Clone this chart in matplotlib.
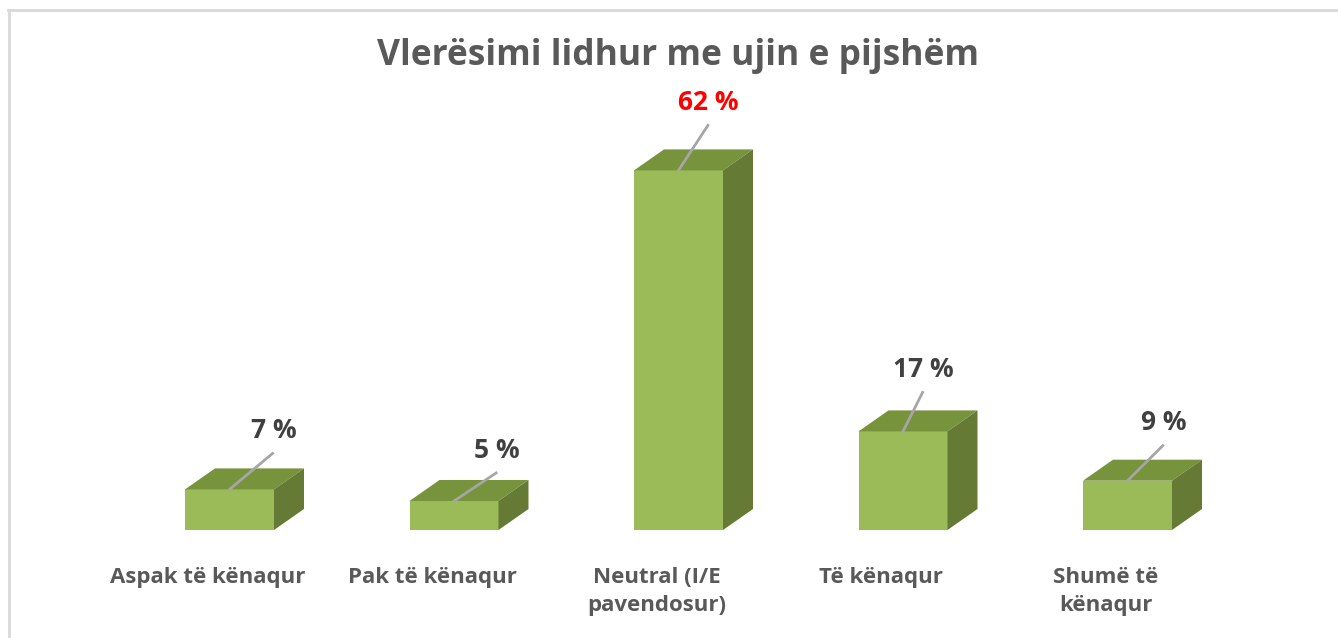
import numpy as np
import matplotlib
matplotlib.use('Agg')
import matplotlib.pyplot as plt
from matplotlib.patches import Polygon
from matplotlib.lines import Line2D
import matplotlib.transforms as mtransforms

plt.rcParams['font.family'] = ['Open Sans', 'DejaVu Sans']

# data
categories = ['Aspak të kënaqur', 'Pak të kënaqur', 'Neutral (I/E\npavendosur)',
              'Të kënaqur', 'Shumë të\nkënaqur']
values = [7, 5, 62, 17, 8.5]
value_labels = ['7 %', '5 %', '62 %', '17 %', '9 %']
title = 'Vlerësimi lidhur me ujin e pijshëm'

# style
front_col = '#9BBB59'
top_col = '#77933C'
side_col = '#647A35'
label_cols = ['#404040', '#404040', '#FF0000', '#404040', '#404040']
# label offsets (pixels) from front-top centre of each bar
lab_dx = [44, 43, 30, 20, 36]
lab_dy = [59, 51, 68, 62, 58]

W, H = 1338, 638
fig = plt.figure(figsize=(W / 100, H / 100), dpi=100)

spacing = 224.5
left = 229.5 - 0.5 * spacing
ax = fig.add_axes([left / W, 108 / H, 5 * spacing / W, 406 / H])
ax.set_xlim(-0.5, 4.5)
ax.set_ylim(0, 70)
ax.axis('off')

bar_w = 89 / spacing
ddx = 30 / spacing           # depth in x (category units)
ddy = 21 / (406 / 70)        # depth in y (percent units)

x = np.arange(len(values))
ax.bar(x, values, width=bar_w, color=front_col, edgecolor='none', zorder=2)
for xi, v in zip(x, values):
    x0, x1 = xi - bar_w / 2, xi + bar_w / 2
    ax.add_patch(Polygon([(x0, v), (x1, v), (x1 + ddx, v + ddy), (x0 + ddx, v + ddy)],
                         closed=True, facecolor=top_col, edgecolor='none', zorder=2))
    ax.add_patch(Polygon([(x1, 0), (x1 + ddx, ddy), (x1 + ddx, v + ddy), (x1, v)],
                         closed=True, facecolor=side_col, edgecolor='none', zorder=2))

# data labels with leader lines
for xi, v, lab, c, dx, dy in zip(x, values, value_labels, label_cols, lab_dx, lab_dy):
    base = ax.transData.transform((xi, v))
    tx, ty = base[0] + dx, base[1] + dy
    ex, ey = base[0] + dx * 0.98, base[1] + dy - 23
    line = Line2D([base[0], ex], [base[1], ey], transform=None,
                  color='#A6A6A6', lw=2, zorder=3)
    fig.add_artist(line)
    fig.text(tx / W, ty / H, lab, ha='center', va='center', fontsize=19,
             fontweight='bold', color=c)

# category labels
for xi, cat in zip(x, categories):
    tr = mtransforms.offset_copy(ax.transData, fig=fig, x=-22, y=-37, units='dots')
    ax.text(xi, 0, cat, transform=tr, ha='center', va='top', fontsize=16,
            fontweight='bold', color='#595959', linespacing=1.45)

fig.text(678 / W, (H - 56) / H, title, ha='center', va='center', fontsize=25.5,
         fontweight='bold', color='#595959')

# chart border (top and left edge visible)
fig.add_artist(Line2D([9 / W, 9 / W], [0, (H - 10) / H], transform=fig.transFigure,
                      color='#D9D9D9', lw=2))
fig.add_artist(Line2D([8 / W, 1], [(H - 10) / H, (H - 10) / H], transform=fig.transFigure,
                      color='#D9D9D9', lw=2))

fig.savefig('out.png', dpi=100)
